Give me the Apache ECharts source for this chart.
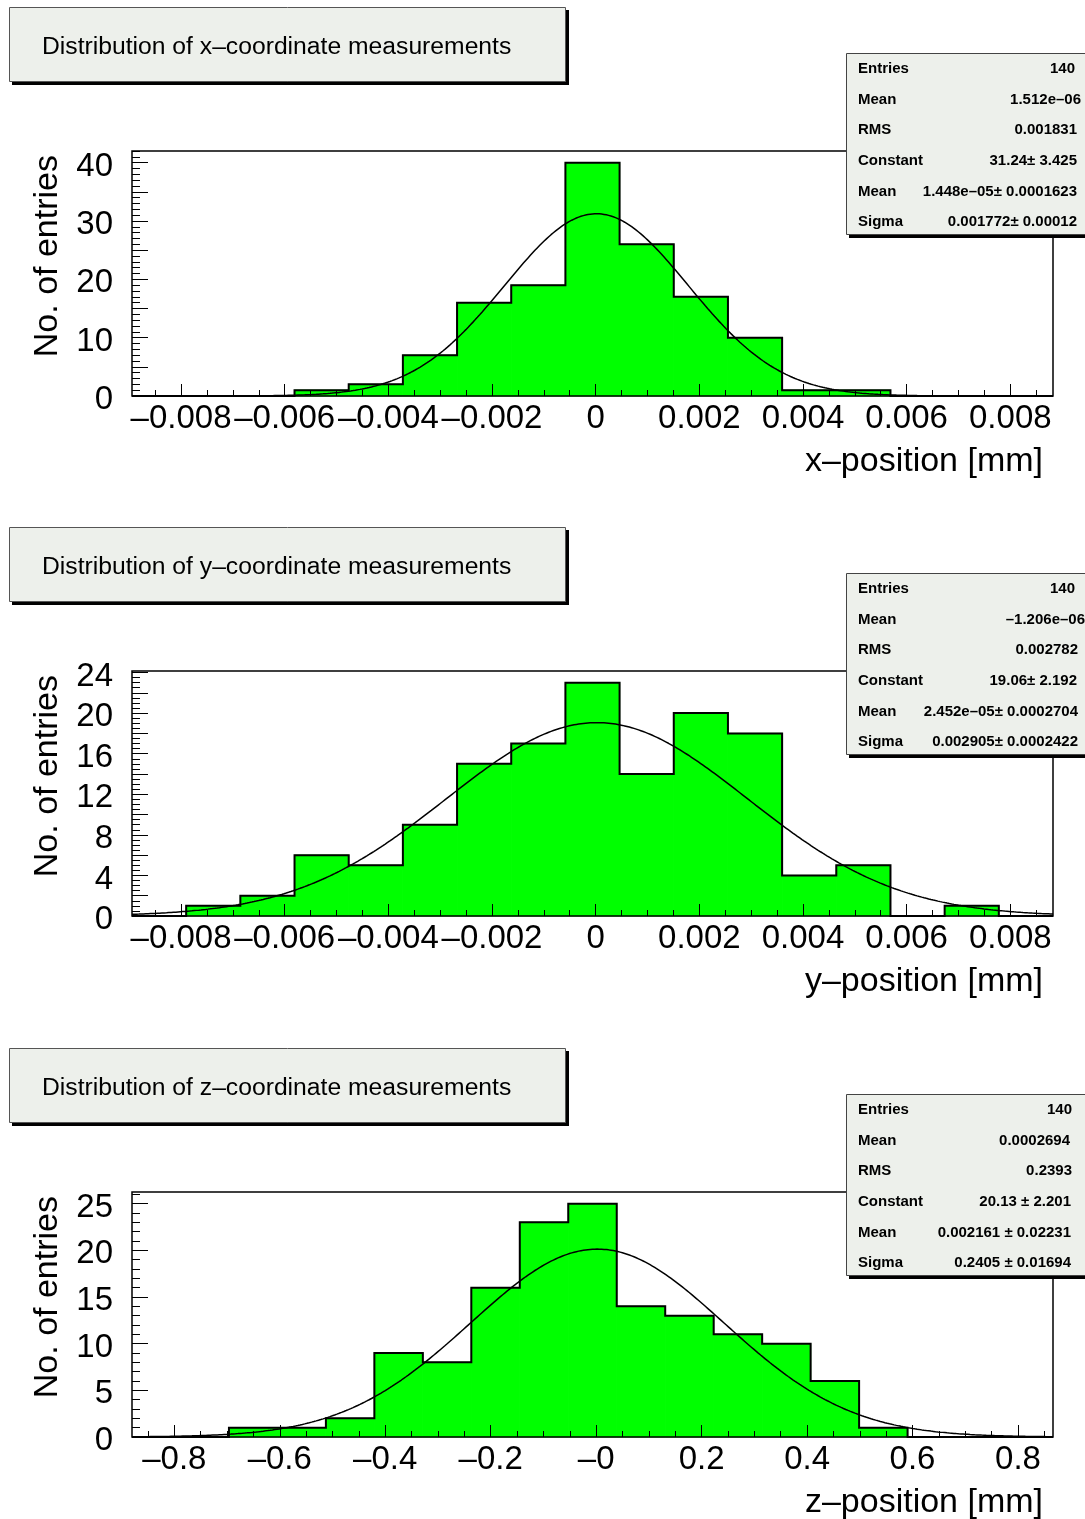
<!DOCTYPE html>
<html>
<head>
<meta charset="utf-8">
<title>Coordinate measurement distributions</title>
<script src="https://cdn.jsdelivr.net/npm/echarts@6/dist/echarts.min.js"></script>
<style>
  html, body { margin: 0; padding: 0; background: #ffffff; }
  #chart { width: 1085px; height: 1519px; }
</style>
</head>
<body>
<div id="chart"></div>
<script>
// ---- Histogram contents (entries per bin) ----
const xCounts = [0, 0, 0, 1, 2, 7, 16, 19, 40, 26, 17, 10, 1, 1, 0, 0, 0];
const yCounts = [0, 1, 2, 6, 5, 9, 15, 17, 23, 14, 20, 18, 4, 5, 0, 1, 0];
const zCounts = [0, 0, 1, 1, 2, 9, 8, 16, 23, 25, 14, 13, 11, 10, 6, 1, 0, 0, 0];

// ---- Histogram ranges [low, high] in mm ----
const xRange = [-0.008946, 0.008824];
const yRange = [-0.008946, 0.008824];
const zRange = [-0.8802, 0.8664];

// ---- Vertical axis maxima ----
const xCountMax = 42;
const yCountMax = 24.15;
const zCountMax = 26.25;

// ---- Gaussian fit parameters [constant, mean, sigma] ----
const xFit = [31.24, 1.448e-05, 0.001772];
const yFit = [19.06, 2.452e-05, 0.002905];
const zFit = [20.13, 0.002161, 0.2405];

// ---- Position axis tick values and labels ----
const posTickValues = [-0.008, -0.006, -0.004, -0.002, 0, 0.002, 0.004, 0.006, 0.008];
const posTickLabels = ['\u20130.008', '\u20130.006', '\u20130.004', '\u20130.002', '0', '0.002', '0.004', '0.006', '0.008'];
const zTickValues = [-0.8, -0.6, -0.4, -0.2, 0, 0.2, 0.4, 0.6, 0.8];
const zTickLabels = ['\u20130.8', '\u20130.6', '\u20130.4', '\u20130.2', '\u20130', '0.2', '0.4', '0.6', '0.8'];

// ---- Entries axis labels ----
const xCountLabels = [0, 10, 20, 30, 40];
const yCountLabels = [0, 4, 8, 12, 16, 20, 24];
const zCountLabels = [0, 5, 10, 15, 20, 25];

// ---- Statistics boxes ----
const xStats = [['Entries', '140'], ['Mean', '1.512e\u201306'], ['RMS', '0.001831'],
  ['Constant', '31.24\u00b1 3.425'], ['Mean', '1.448e\u201305\u00b1 0.0001623'], ['Sigma', '0.001772\u00b1 0.00012']];
const yStats = [['Entries', '140'], ['Mean', '\u20131.206e\u201306'], ['RMS', '0.002782'],
  ['Constant', '19.06\u00b1 2.192'], ['Mean', '2.452e\u201305\u00b1 0.0002704'], ['Sigma', '0.002905\u00b1 0.0002422']];
const zStats = [['Entries', '140'], ['Mean', '0.0002694'], ['RMS', '0.2393'],
  ['Constant', '20.13 \u00b1 2.201'], ['Mean', '0.002161 \u00b1 0.02231'], ['Sigma', '0.2405 \u00b1 0.01694']];

// ---- Titles ----
const panelTitles = ['Distribution of x\u2013coordinate measurements',
  'Distribution of y\u2013coordinate measurements',
  'Distribution of z\u2013coordinate measurements'];
const axisTitles = ['x\u2013position [mm]', 'y\u2013position [mm]', 'z\u2013position [mm]'];
const countTitle = 'No. of entries';

// ---------------------------------------------------------------
const FONT = '"Liberation Sans", Arial, Helvetica, sans-serif';
const PANEL_BG = '#edf0eb';
const AXIS_FONT = 34;
const TICK_FONT = 33;

const panels = [
  { counts: xCounts, range: xRange, ymax: xCountMax, fit: xFit,
    ticks: posTickValues, labels: posTickLabels, minorStep: 0.0005,
    yLabels: xCountLabels, yMajor: 5, yMinor: 1, stats: xStats,
    statRight: [1075, 1081, 1077, 1077, 1077, 1077], dy: 0 },
  { counts: yCounts, range: yRange, ymax: yCountMax, fit: yFit,
    ticks: posTickValues, labels: posTickLabels, minorStep: 0.0005,
    yLabels: yCountLabels, yMajor: 2, yMinor: 0.5, stats: yStats,
    statRight: [1075, 1085, 1078, 1077, 1078, 1078], dy: 520 },
  { counts: zCounts, range: zRange, ymax: zCountMax, fit: zFit,
    ticks: zTickValues, labels: zTickLabels, minorStep: 0.05,
    yLabels: zCountLabels, yMajor: 5, yMinor: 1, stats: zStats,
    statRight: [1072, 1070, 1072, 1071, 1071, 1071], dy: 1041 }
];

// tick positions at a regular step inside [lo, hi]
function stepValues(lo, hi, step) {
  const out = [];
  const start = Math.ceil(lo / step - 1e-9);
  const end = Math.floor(hi / step + 1e-9);
  for (let k = start; k <= end; k++) out.push(+(k * step).toFixed(10));
  return out;
}

function gauss(p, x) {
  const t = (x - p[1]) / p[2];
  return p[0] * Math.exp(-0.5 * t * t);
}

const grids = [], xAxes = [], yAxes = [], series = [], graphics = [];

panels.forEach((P, i) => {
  const dy = P.dy;
  const [lo, hi] = P.range;
  const nb = P.counts.length;
  const width = (hi - lo) / nb;
  const edge = k => lo + k * width;

  grids.push({
    left: 132, top: 151 + dy, width: 921, height: 245,
    show: true, borderColor: '#000', borderWidth: 1.5,
    backgroundColor: 'rgba(0,0,0,0)', z: 8
  });

  const tickStyle = { color: '#000', width: 1 };
  const noLine = { show: false, onZero: false };
  // main position axis with labels
  xAxes.push({
    gridIndex: i, type: 'value', min: lo, max: hi, position: 'bottom', z: 6,
    axisLine: noLine, splitLine: { show: false },
    axisTick: { inside: true, length: 12, customValues: P.ticks, lineStyle: tickStyle },
    axisLabel: {
      customValues: P.ticks, fontSize: TICK_FONT, color: '#000', fontFamily: FONT, margin: 6,
      showMinLabel: true, showMaxLabel: true, hideOverlap: false,
      formatter: v => {
        const k = P.ticks.findIndex(t => Math.abs(t - v) < 1e-9);
        return k >= 0 ? P.labels[k] : '';
      }
    }
  });
  // minor position ticks
  const minor = stepValues(lo, hi, P.minorStep).filter(
    v => !P.ticks.some(t => Math.abs(t - v) < 1e-9));
  xAxes.push({
    gridIndex: i, type: 'value', min: lo, max: hi, position: 'bottom', z: 6,
    axisLine: noLine, splitLine: { show: false },
    axisTick: { inside: true, length: 6, customValues: minor, lineStyle: tickStyle },
    axisLabel: { show: false }
  });

  // entries axis
  const yLong = stepValues(0, P.ymax, P.yMajor);
  const yShort = stepValues(0, P.ymax, P.yMinor).filter(
    v => !yLong.some(t => Math.abs(t - v) < 1e-9));
  yAxes.push({
    gridIndex: i, type: 'value', min: 0, max: P.ymax, position: 'left', z: 6,
    axisLine: noLine, splitLine: { show: false },
    axisTick: { inside: true, length: 16, customValues: yLong, lineStyle: tickStyle },
    axisLabel: {
      customValues: P.yLabels, color: '#000', fontFamily: FONT, margin: 19,
      showMinLabel: true, showMaxLabel: true, hideOverlap: false,
      // a small spacer line sets the digits slightly below their tick
      formatter: v => '{s| }\n{v|' + Math.round(v) + '}',
      rich: {
        s: { fontSize: 8, lineHeight: 8, fontFamily: FONT },
        v: { fontSize: TICK_FONT, lineHeight: 29, color: '#000', fontFamily: FONT }
      }
    }
  });
  yAxes.push({
    gridIndex: i, type: 'value', min: 0, max: P.ymax, position: 'left', z: 6,
    axisLine: noLine, splitLine: { show: false },
    axisTick: { inside: true, length: 8, customValues: yShort, lineStyle: tickStyle },
    axisLabel: { show: false }
  });

  // filled bins
  series.push({
    type: 'custom', xAxisIndex: 2 * i, yAxisIndex: 2 * i, z: 2, silent: true,
    data: P.counts.map((c, k) => [edge(k), edge(k + 1), c]),
    renderItem: (params, api) => {
      const a = api.coord([api.value(0), api.value(2)]);
      const b = api.coord([api.value(1), 0]);
      return {
        type: 'rect',
        shape: { x: a[0], y: a[1], width: b[0] - a[0], height: b[1] - a[1] },
        style: { fill: '#00ff00', stroke: '#00ff00', lineWidth: 1 }
      };
    }
  });

  // bin outline
  const outline = [[edge(0), 0]];
  P.counts.forEach((c, k) => { outline.push([edge(k), c]); outline.push([edge(k + 1), c]); });
  outline.push([edge(nb), 0]);
  series.push({
    type: 'line', xAxisIndex: 2 * i, yAxisIndex: 2 * i, z: 3, silent: true,
    data: outline, symbol: 'none',
    lineStyle: { color: '#000', width: 2, join: 'miter' }
  });

  // Gaussian fit curve
  const curve = [];
  const N = 400;
  for (let k = 0; k <= N; k++) {
    const x = lo + (hi - lo) * k / N;
    curve.push([x, gauss(P.fit, x)]);
  }
  series.push({
    type: 'line', xAxisIndex: 2 * i, yAxisIndex: 2 * i, z: 4, silent: true,
    data: curve, symbol: 'none', smooth: false,
    lineStyle: { color: '#000', width: 1.5 }
  });

  // title box
  graphics.push({ type: 'rect', z: 50, shape: { x: 12, y: 10 + dy, width: 557, height: 75 },
    style: { fill: '#000' } });
  graphics.push({ type: 'rect', z: 51, shape: { x: 9.5, y: 7.5 + dy, width: 556, height: 74 },
    style: { fill: PANEL_BG, stroke: '#555', lineWidth: 1 } });
  graphics.push({ type: 'text', z: 52, x: 42, y: 47 + dy,
    style: { text: panelTitles[i], font: `24.7px ${FONT}`, fill: '#000', verticalAlign: 'middle' } });

  // statistics box
  graphics.push({ type: 'rect', z: 60, shape: { x: 849, y: 56 + dy, width: 260, height: 182 },
    style: { fill: '#000' } });
  graphics.push({ type: 'rect', z: 61, shape: { x: 846.5, y: 53.5 + dy, width: 260, height: 181 },
    style: { fill: PANEL_BG, stroke: '#444', lineWidth: 1 } });
  P.stats.forEach((row, r) => {
    const ty = 69 + dy + r * 30.6;
    graphics.push({ type: 'text', z: 62, x: 858, y: ty,
      style: { text: row[0], font: `bold 15px ${FONT}`, fill: '#000', verticalAlign: 'middle' } });
    graphics.push({ type: 'text', z: 62, x: P.statRight[r], y: ty,
      style: { text: row[1], font: `bold 15px ${FONT}`, fill: '#000', align: 'right', verticalAlign: 'middle' } });
  });

  // axis titles
  graphics.push({ type: 'text', z: 40, x: 1043, y: 462 + dy,
    style: { text: axisTitles[i], font: `${AXIS_FONT}px ${FONT}`, fill: '#000', align: 'right', verticalAlign: 'middle' } });
  graphics.push({ type: 'text', z: 40, x: 48, y: 155 + dy, rotation: Math.PI / 2,
    style: { text: countTitle, font: `${AXIS_FONT}px ${FONT}`, fill: '#000', align: 'right', verticalAlign: 'middle' } });
});

const chart = echarts.init(document.getElementById('chart'), null, { renderer: 'canvas' });
chart.setOption({
  animation: false,
  backgroundColor: '#ffffff',
  grid: grids,
  xAxis: xAxes,
  yAxis: yAxes,
  series: series,
  graphic: graphics
});
</script>
</body>
</html>
